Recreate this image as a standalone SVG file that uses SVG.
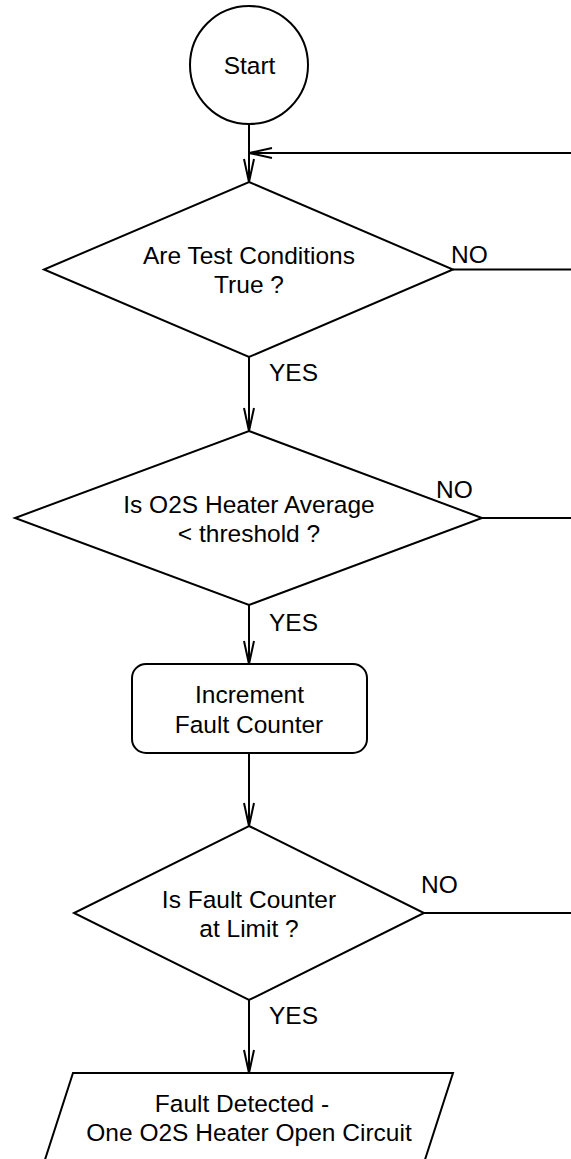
<svg xmlns="http://www.w3.org/2000/svg" width="571" height="1159" viewBox="0 0 571 1159">
  <style>
    .shape { fill: #fff; stroke: #000; stroke-width: 2; }
    .wire { fill: none; stroke: #000; stroke-width: 2; }
    .lbl { font-family: "Liberation Sans", Arial, sans-serif; font-size: 24.5px; fill: #000; }
    .mid { text-anchor: middle; }
  </style>
  <defs>
    <marker id="arrow" markerUnits="userSpaceOnUse" markerWidth="30" markerHeight="16" refX="24" refY="8" orient="auto" overflow="visible">
      <path d="M1,3 L24,8 L1,13" fill="none" stroke="#000" stroke-width="2"/>
    </marker>
  </defs>
  <rect width="571" height="1159" fill="#fff"/>

  <!-- connectors -->
  <g id="connectors">
    <line class="wire" x1="249" y1="124" x2="249" y2="182" marker-end="url(#arrow)"/>
    <line class="wire" x1="575" y1="153" x2="249" y2="153" marker-end="url(#arrow)"/>
    <line class="wire" x1="453" y1="269.5" x2="575" y2="269.5"/>
    <line class="wire" x1="249" y1="357" x2="249" y2="431" marker-end="url(#arrow)"/>
    <line class="wire" x1="482" y1="518" x2="575" y2="518"/>
    <line class="wire" x1="249" y1="605" x2="249" y2="664" marker-end="url(#arrow)"/>
    <line class="wire" x1="249" y1="753" x2="249" y2="826" marker-end="url(#arrow)"/>
    <line class="wire" x1="424" y1="913" x2="575" y2="913"/>
    <line class="wire" x1="249" y1="1000" x2="249" y2="1073" marker-end="url(#arrow)"/>
    <text class="lbl" x="451" y="263">NO</text>
    <text class="lbl" x="269" y="381">YES</text>
    <text class="lbl" x="436" y="498">NO</text>
    <text class="lbl" x="269" y="631">YES</text>
    <text class="lbl" x="421" y="893">NO</text>
    <text class="lbl" x="269" y="1024">YES</text>
  </g>

  <g id="start">
    <circle class="shape" cx="249" cy="65" r="59"/>
    <text class="lbl mid" x="249.5" y="74">Start</text>
  </g>

  <g id="test-conditions">
    <polygon class="shape" points="249,182 453,269.5 249,357 44,269.5"/>
    <text class="lbl mid" x="249" y="264">Are Test Conditions</text>
    <text class="lbl mid" x="249" y="293">True ?</text>
  </g>

  <g id="heater-average">
    <polygon class="shape" points="249,431 482,518 249,605 15,518"/>
    <text class="lbl mid" x="249" y="513">Is O2S Heater Average</text>
    <text class="lbl mid" x="249" y="542">&lt; threshold ?</text>
  </g>

  <g id="increment-counter">
    <rect class="shape" x="132" y="664" width="235" height="89" rx="14" ry="14"/>
    <text class="lbl mid" x="249.5" y="703">Increment</text>
    <text class="lbl mid" x="249" y="733">Fault Counter</text>
  </g>

  <g id="counter-limit">
    <polygon class="shape" points="249,826 424,913 249,1000 74,913"/>
    <text class="lbl mid" x="249" y="908">Is Fault Counter</text>
    <text class="lbl mid" x="249" y="937">at Limit ?</text>
  </g>

  <g id="fault-detected">
    <polygon class="shape" points="73,1073 453,1073 421,1172 41,1172"/>
    <text class="lbl mid" x="242" y="1112">Fault Detected -</text>
    <text class="lbl mid" x="249" y="1141">One O2S Heater Open Circuit</text>
  </g>
</svg>
